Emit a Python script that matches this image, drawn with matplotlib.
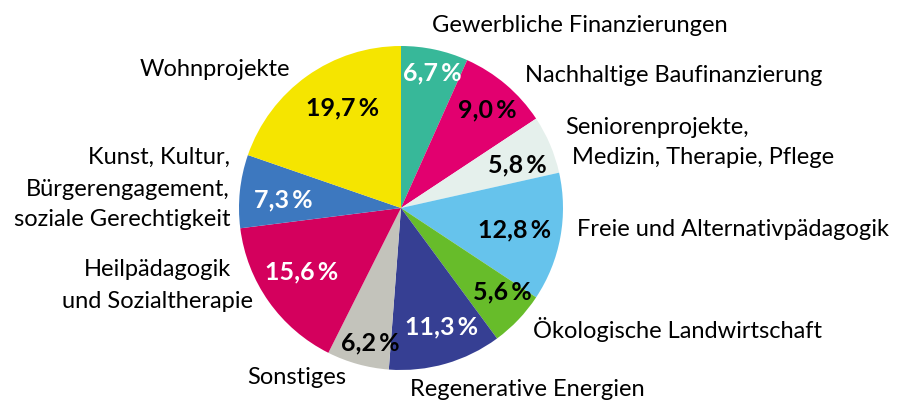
import matplotlib
matplotlib.use("Agg")
import matplotlib.pyplot as plt

# Slices, clockwise from 12 o'clock
categories = ["Gewerbliche Finanzierungen", "Nachhaltige Baufinanzierung",
              "Seniorenprojekte, Medizin, Therapie, Pflege", "Freie und Alternativpädagogik",
              "Ökologische Landwirtschaft", "Regenerative Energien", "Sonstiges",
              "Heilpädagogik und Sozialtherapie",
              "Kunst, Kultur, Bürgerengagement, soziale Gerechtigkeit", "Wohnprojekte"]
shares = [6.7, 9.0, 5.8, 12.8, 5.6, 11.3, 6.2, 15.6, 7.3, 19.7]
colors = ["#37b899", "#e2006f", "#e5f0ec", "#66c3ec", "#67bc2a",
          "#363f93", "#c3c3bb", "#d4005d", "#3d78bf", "#f5e500"]
pct_colors = ["white", "black", "black", "black", "black",
              "white", "black", "white", "white", "black"]

# layout (pixel coordinates, y from top)
H = 405
pct_pos = [(432, 73), (487, 110), (517, 165), (515, 230), (502, 292),
           (442, 327), (370, 343), (302, 272), (283, 200), (343, 108)]

fig = plt.figure(figsize=(9.02, 4.05), dpi=100)
ax = fig.add_axes([0, 0, 1, 1])

ax.pie(shares, colors=colors, startangle=90, counterclock=False,
       center=(401, H - 208), radius=162, wedgeprops=dict(linewidth=0))
ax.set_xlim(0, 902)
ax.set_ylim(0, H)
ax.set_aspect("equal")
ax.axis("off")

lab_font = "Lato"
for v, (x, y), c in zip(shares, pct_pos, pct_colors):
    s = f"{v:.1f}".replace(".", ",") + "\u2009%"
    ax.text(x, H - y, s, ha="center", va="center", fontsize=18,
            fontweight="bold", color=c, family=lab_font)

def lab(x, y, s, ha="left"):
    ax.text(x, H - y, s, ha=ha, va="center", fontsize=17,
            color="black", family=lab_font)

lab(432, 25, "Gewerbliche Finanzierungen")
lab(525, 75, "Nachhaltige Baufinanzierung")
lab(565, 127, "Seniorenprojekte,")
lab(572, 157, "Medizin, Therapie, Pflege")
lab(577, 230, "Freie und Alternativpädagogik")
lab(533, 330, "Ökologische Landwirtschaft")
lab(410, 390, "Regenerative Energien")
lab(247, 378, "Sonstiges")
lab(158, 270, "Heilpädagogik", ha="center")
lab(158, 302, "und Sozialtherapie", ha="center")
lab(230, 157, "Kunst, Kultur,", ha="right")
lab(230, 189, "Bürgerengagement,", ha="right")
lab(230, 220, "soziale Gerechtigkeit", ha="right")
lab(290, 70, "Wohnprojekte", ha="right")

fig.savefig("out.png", dpi=100)
